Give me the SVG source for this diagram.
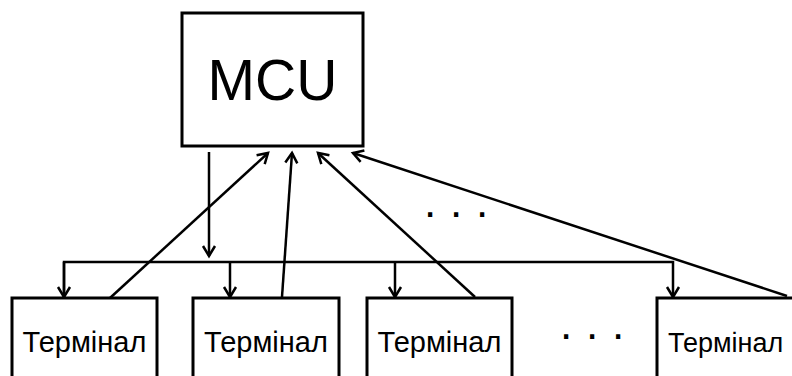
<svg xmlns="http://www.w3.org/2000/svg" width="792" height="376" viewBox="0 0 792 376">
<style>
.box{fill:#fff;stroke:#000;stroke-width:3}
.lbl{font-family:"Liberation Sans",Arial,sans-serif;fill:#000}
.c{fill:none;stroke:#000;stroke-width:2.5}
</style>
<defs>
<marker id="a" markerUnits="userSpaceOnUse" markerWidth="16" markerHeight="16" viewBox="0 0 16 16" refX="13" refY="8" orient="auto">
<path d="M3,2 L13,8 L3,14" fill="none" stroke="#000" stroke-width="2.5" stroke-linejoin="miter"/>
</marker>
</defs>
<rect width="792" height="376" fill="#fff"/>
<g id="connectors">
<line class="c" x1="209" y1="152" x2="209" y2="256" marker-end="url(#a)"/>
<polyline class="c" points="64,297 64,262 673,262 673,297" marker-end="url(#a)"/>
<line class="c" x1="64" y1="262" x2="64" y2="297" marker-end="url(#a)"/>
<line class="c" x1="230" y1="262" x2="230" y2="297" marker-end="url(#a)"/>
<line class="c" x1="395" y1="262" x2="395" y2="297" marker-end="url(#a)"/>
<line class="c" x1="110" y1="298" x2="268" y2="153" marker-end="url(#a)"/>
<line class="c" x1="282" y1="297" x2="292" y2="153" marker-end="url(#a)"/>
<line class="c" x1="475" y1="297" x2="318" y2="153" marker-end="url(#a)"/>
<line class="c" x1="787" y1="296" x2="353" y2="153" marker-end="url(#a)"/>
</g>
<g id="mcu">
<rect class="box" x="182" y="13" width="181" height="133"/>
<text class="lbl" x="272.5" y="100" font-size="57" text-anchor="middle">MCU</text>
</g>
<g id="t1">
<rect class="box" x="12" y="298" width="145" height="100"/>
<text class="lbl" x="84.5" y="352" font-size="29" text-anchor="middle">Термінал</text>
</g>
<g id="t2">
<rect class="box" x="193" y="298" width="146" height="100"/>
<text class="lbl" x="266" y="352" font-size="29" text-anchor="middle">Термінал</text>
</g>
<g id="t3">
<rect class="box" x="367" y="298" width="145" height="100"/>
<text class="lbl" x="439.5" y="352" font-size="29" text-anchor="middle">Термінал</text>
</g>
<g id="t4">
<rect class="box" x="657" y="298" width="145" height="100"/>
<text class="lbl" x="668" y="352" font-size="27">Термінал</text>
</g>
<text class="lbl" x="424 450 476" y="217" font-size="44">...</text>
<text class="lbl" x="560 586 612" y="339" font-size="44">...</text>
</svg>
